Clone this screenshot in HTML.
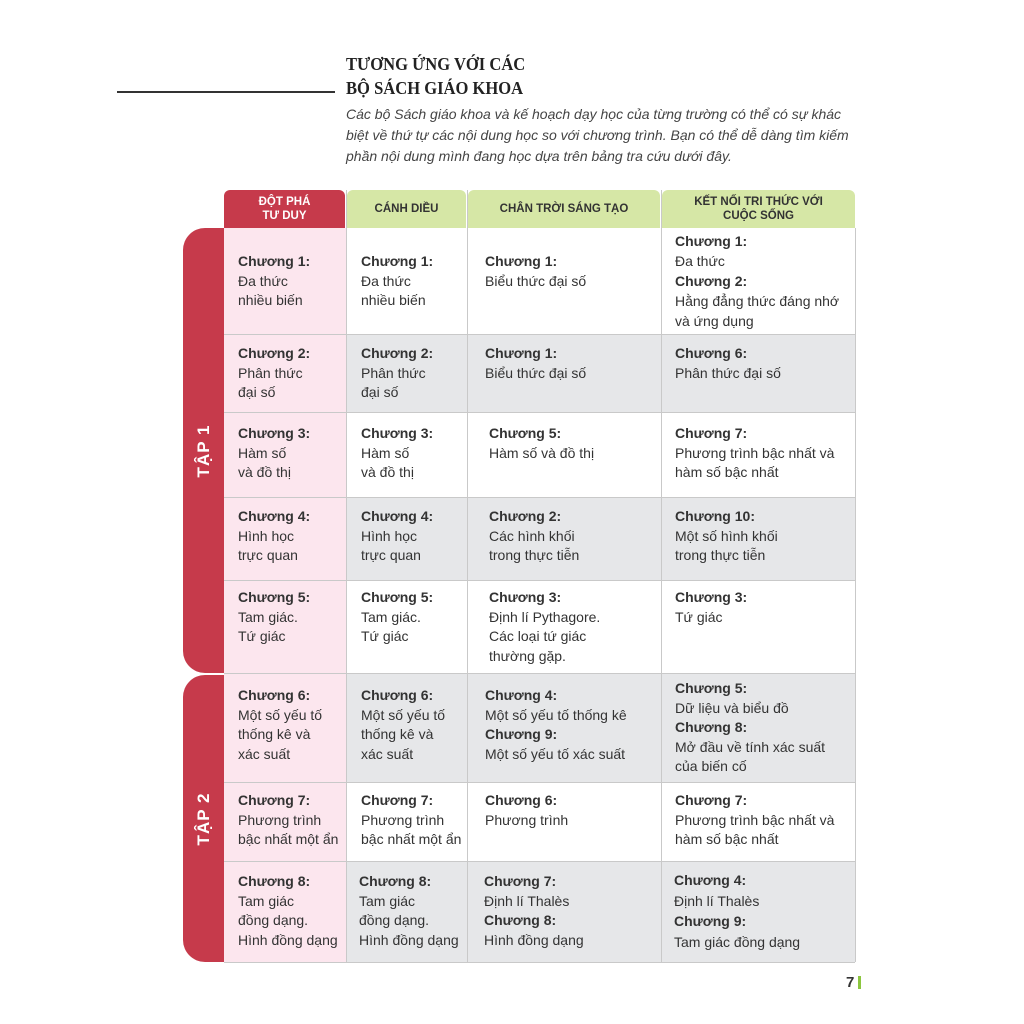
<!DOCTYPE html><html><head><meta charset="utf-8"><style>
body{margin:0;width:1024px;height:1024px;background:#fff;position:relative;font-family:"Liberation Sans",sans-serif;color:#333;overflow:hidden}
.a{position:absolute}
.t{position:absolute;font-size:14px;line-height:19.5px;color:#333;white-space:nowrap}
.t b{color:#333}
.h{position:absolute;top:190px;height:38px;display:flex;align-items:center;justify-content:center;text-align:center;font-size:11.5px;font-weight:bold;line-height:14px;border-radius:6px 6px 0 0}
.tab{position:absolute;left:183px;width:41px;background:#c63a4b;border-radius:22px 0 0 22px;color:#fff;font-weight:bold;font-size:17px}
.tab span{position:absolute;left:50%;top:50%;transform:translate(-50%,-50%) rotate(-90deg);white-space:nowrap;letter-spacing:1px}
</style></head><body>
<div class="a" style="left:346px;top:52px;font-family:'Liberation Serif',serif;font-weight:bold;font-size:18px;line-height:24px;color:#222;transform:scaleX(0.92);transform-origin:left">TƯƠNG ỨNG VỚI CÁC<br>BỘ SÁCH GIÁO KHOA</div>
<div class="a" style="left:117px;top:91px;width:218px;height:1.5px;background:#333"></div>
<div class="a" style="left:346px;top:104px;font-style:italic;font-size:14px;line-height:21px;color:#444">Các bộ Sách giáo khoa và kế hoạch dạy học của từng trường có thể có sự khác<br>biệt về thứ tự các nội dung học so với chương trình. Bạn có thể dễ dàng tìm kiếm<br>phần nội dung mình đang học dựa trên bảng tra cứu dưới đây.</div>

<div class="h" style="left:224px;width:121px;background:#c63a4b;color:#fff">ĐỘT PHÁ<br>TƯ DUY</div>
<div class="h" style="left:347px;width:119px;background:#d6e7a6;color:#333">CÁNH DIỀU</div>
<div class="h" style="left:468px;width:192px;background:#d6e7a6;color:#333">CHÂN TRỜI SÁNG TẠO</div>
<div class="h" style="left:662px;width:193px;background:#d6e7a6;color:#333">KẾT NỐI TRI THỨC VỚI<br>CUỘC SỐNG</div>

<svg class="a" style="left:0;top:0" width="1024" height="1024">
<g fill="#fff"><rect x="224" y="228" width="631" height="106"/></g>
<g fill="#e6e7e9">
<rect x="224" y="334" width="631" height="78"/><rect x="224" y="497" width="631" height="83"/>
<rect x="224" y="673" width="631" height="109"/><rect x="224" y="861" width="631" height="101"/></g>
<g fill="#fce6ee"><rect x="224" y="228" width="122" height="734"/></g>
<g stroke="#c9c9c9" stroke-width="1">
<line x1="224" y1="334.5" x2="855" y2="334.5"/><line x1="224" y1="412.5" x2="855" y2="412.5"/>
<line x1="224" y1="497.5" x2="855" y2="497.5"/><line x1="224" y1="580.5" x2="855" y2="580.5"/>
<line x1="224" y1="673.5" x2="855" y2="673.5"/><line x1="224" y1="782.5" x2="855" y2="782.5"/>
<line x1="224" y1="861.5" x2="855" y2="861.5"/><line x1="224" y1="962.5" x2="855" y2="962.5"/>
<line x1="346.5" y1="190" x2="346.5" y2="962"/><line x1="467.5" y1="190" x2="467.5" y2="962"/>
<line x1="661.5" y1="190" x2="661.5" y2="962"/><line x1="855.5" y1="228" x2="855.5" y2="962"/></g>
</svg>
<div class="tab" style="top:228px;height:445px"><span>TẬP 1</span></div>
<div class="tab" style="top:675px;height:287px"><span>TẬP 2</span></div>

<div class="t" style="left:238px;top:252px"><b>Chương 1:</b><br>Đa thức<br>nhiều biến</div>
<div class="t" style="left:361px;top:252px"><b>Chương 1:</b><br>Đa thức<br>nhiều biến</div>
<div class="t" style="left:485px;top:252px"><b>Chương 1:</b><br>Biểu thức đại số</div>
<div class="t" style="left:675px;top:231px;line-height:20px"><b>Chương 1:</b><br>Đa thức<br><b>Chương 2:</b><br>Hằng đẳng thức đáng nhớ<br>và ứng dụng</div>

<div class="t" style="left:238px;top:344px"><b>Chương 2:</b><br>Phân thức<br>đại số</div>
<div class="t" style="left:361px;top:344px"><b>Chương 2:</b><br>Phân thức<br>đại số</div>
<div class="t" style="left:485px;top:344px"><b>Chương 1:</b><br>Biểu thức đại số</div>
<div class="t" style="left:675px;top:344px"><b>Chương 6:</b><br>Phân thức đại số</div>

<div class="t" style="left:238px;top:424px"><b>Chương 3:</b><br>Hàm số<br>và đồ thị</div>
<div class="t" style="left:361px;top:424px"><b>Chương 3:</b><br>Hàm số<br>và đồ thị</div>
<div class="t" style="left:489px;top:424px"><b>Chương 5:</b><br>Hàm số và đồ thị</div>
<div class="t" style="left:675px;top:424px"><b>Chương 7:</b><br>Phương trình bậc nhất và<br>hàm số bậc nhất</div>

<div class="t" style="left:238px;top:507px"><b>Chương 4:</b><br>Hình học<br>trực quan</div>
<div class="t" style="left:361px;top:507px"><b>Chương 4:</b><br>Hình học<br>trực quan</div>
<div class="t" style="left:489px;top:507px"><b>Chương 2:</b><br>Các hình khối<br>trong thực tiễn</div>
<div class="t" style="left:675px;top:507px"><b>Chương 10:</b><br>Một số hình khối<br>trong thực tiễn</div>

<div class="t" style="left:238px;top:588px"><b>Chương 5:</b><br>Tam giác.<br>Tứ giác</div>
<div class="t" style="left:361px;top:588px"><b>Chương 5:</b><br>Tam giác.<br>Tứ giác</div>
<div class="t" style="left:489px;top:588px"><b>Chương 3:</b><br>Định lí Pythagore.<br>Các loại tứ giác<br>thường gặp.</div>
<div class="t" style="left:675px;top:588px"><b>Chương 3:</b><br>Tứ giác</div>

<div class="t" style="left:238px;top:686px"><b>Chương 6:</b><br>Một số yếu tố<br>thống kê và<br>xác suất</div>
<div class="t" style="left:361px;top:686px"><b>Chương 6:</b><br>Một số yếu tố<br>thống kê và<br>xác suất</div>
<div class="t" style="left:485px;top:686px"><b>Chương 4:</b><br>Một số yếu tố thống kê<br><b>Chương 9:</b><br>Một số yếu tố xác suất</div>
<div class="t" style="left:675px;top:679px"><b>Chương 5:</b><br>Dữ liệu và biểu đồ<br><b>Chương 8:</b><br>Mở đầu về tính xác suất<br>của biến cố</div>

<div class="t" style="left:238px;top:791px"><b>Chương 7:</b><br>Phương trình<br>bậc nhất một ẩn</div>
<div class="t" style="left:361px;top:791px"><b>Chương 7:</b><br>Phương trình<br>bậc nhất một ẩn</div>
<div class="t" style="left:485px;top:791px"><b>Chương 6:</b><br>Phương trình</div>
<div class="t" style="left:675px;top:791px"><b>Chương 7:</b><br>Phương trình bậc nhất và<br>hàm số bậc nhất</div>

<div class="t" style="left:238px;top:872px;line-height:19.7px"><b>Chương 8:</b><br>Tam giác<br>đồng dạng.<br>Hình đồng dạng</div>
<div class="t" style="left:359px;top:872px;line-height:19.7px"><b>Chương 8:</b><br>Tam giác<br>đồng dạng.<br>Hình đồng dạng</div>
<div class="t" style="left:484px;top:872px;line-height:19.7px"><b>Chương 7:</b><br>Định lí Thalès<br><b>Chương 8:</b><br>Hình đồng dạng</div>
<div class="t" style="left:674px;top:870px;line-height:20.7px"><b>Chương 4:</b><br>Định lí Thalès<br><b>Chương 9:</b><br>Tam giác đồng dạng</div>

<div class="a" style="left:846px;top:974px;font-size:15px;font-weight:bold;color:#333">7</div>
<div class="a" style="left:858px;top:976px;width:3px;height:13px;background:#8cc63f"></div>
</body></html>
